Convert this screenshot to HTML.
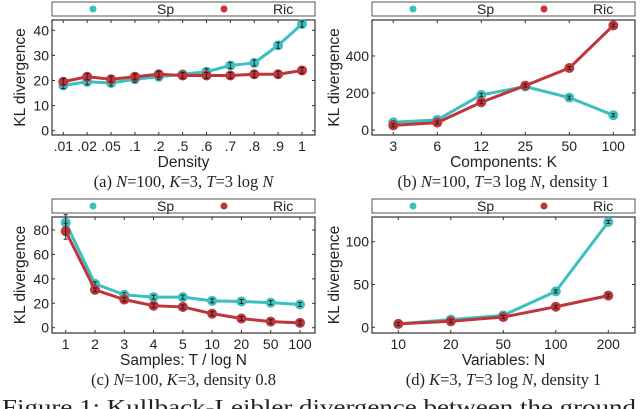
<!DOCTYPE html>
<html><head><meta charset="utf-8">
<style>
html,body{margin:0;padding:0;background:#fff;overflow:hidden}
svg{display:block}
.t{font-family:"Liberation Sans",sans-serif;fill:#222}
.s{font-family:"Liberation Serif",serif;fill:#222}
</style></head>
<body>
<svg id="fig" width="640" height="409" viewBox="0 0 640 409"></svg>
<script>
const aCats=[".01",".02",".05",".1",".2",".5",".6",".7",".8",".9","1"];
const aSp=[18,19.5,19,20.5,21.5,22.5,23.5,26,27,34,42.5];
const aRic=[19.5,21.5,20.5,21.5,22.5,22,22,22,22.5,22.5,24];
const aTicks=[0,10,20,30,40];
const bCats=["3","6","12","25","50","100"];
const bSp=[42,55,190,235,175,80];
const bRic=[25,40,150,240,335,565];
const bTicks=[0,200,400];
const cCats=["1","2","3","4","5","10","20","50","100"];
const cSp=[86,36,27,25,25,22,21.5,20.5,19];
const cRic=[79,31,23,18,17,11.5,7.5,5,4];
const cTicks=[0,20,40,60,80];
const dCats=["10","20","50","100","200"];
const dSp=[4,9,14,42,123];
const dRic=[4,7,12,24,37];
const dTicks=[0,50,100];

const NS="http://www.w3.org/2000/svg";
const svg=document.getElementById('fig');
function mk(tag,attrs,parent,text){const e=document.createElementNS(NS,tag);for(const k in attrs)e.setAttribute(k,attrs[k]);if(text!==undefined)e.textContent=text;(parent||svg).appendChild(e);return e;}
const TEAL="#3cbfbf",RED="#c0353a";

function panel(id,box,ymin,ymax,y0px,yTopPx,cats,x0,x1,ticks,sp,ric,xlabel,caption,errs,ytOff){
  const g=mk('g',{});
  
  
  const lg=mk('rect',{x:box.x,y:box.y-18,width:box.w,height:14,fill:'#fff',stroke:'#555','stroke-width':1},g);
  
  
  mk('circle',{cx:box.x+41,cy:box.y-11,r:3.5,fill:TEAL},g);
  const l1=mk('text',{x:box.x+105,y:box.y-6,'font-size':14,'class':'t'},g,'Sp');
  
  
  mk('circle',{cx:box.x+172,cy:box.y-11,r:3.5,fill:RED},g);
  const l2=mk('text',{x:box.x+221,y:box.y-6,'font-size':14,'class':'t'},g,'Ric');
  
  
  const ax=mk('rect',{x:box.x,y:box.y,width:box.w,height:box.h,fill:'#fff',stroke:'#333','stroke-width':1.2},g);
  
  
  const yS=v=>y0px-(v-ymin)/(ymax-ymin)*(y0px-yTopPx);
  const n=cats.length;
  const xS=i=>x0+i*(x1-x0)/(n-1);
  ticks.forEach(t=>{
    const y=yS(t);
    mk('line',{x1:box.x,x2:box.x+3,y1:y,y2:y,stroke:'#333'},g);
    mk('line',{x1:box.x+box.w-3,x2:box.x+box.w,y1:y,y2:y,stroke:'#333'},g);
    const tl=mk('text',{x:box.x-3,y:y+5,'font-size':14,'text-anchor':'end','class':'t'},g,String(t));
    
    
  });
  cats.forEach((c,i)=>{
    const x=xS(i);
    mk('line',{x1:x,x2:x,y1:box.y+box.h,y2:box.y+box.h-3,stroke:'#333'},g);
    mk('line',{x1:x,x2:x,y1:box.y,y2:box.y+3,stroke:'#333'},g);
    const tl=mk('text',{x:x,y:box.y+box.h+16,'font-size':14,'text-anchor':'middle','class':'t'},g,c);
    
    
  });
  const yl=mk('text',{x:0,y:0,'font-size':15.5,'text-anchor':'middle','class':'t',transform:`translate(${box.x-ytOff},${box.y+box.h/2}) rotate(-90)`},g,'KL divergence');
  
  
  const xl=mk('text',{x:box.x+box.w/2,y:box.y+box.h+32,'font-size':15.5,'text-anchor':'middle','class':'t'},g,xlabel);
  
  
  const cp=mk('text',{x:box.x+box.w/2,y:box.y+box.h+52,'font-size':16.5,'text-anchor':'middle','class':'s'},g);
  cp.innerHTML=caption;
  
  
  [[sp,TEAL,'series-sp'],[ric,RED,'series-ric']].forEach(([arr,col,nm])=>{
    const pts=arr.map((v,i)=>xS(i)+','+yS(v)).join(' ');
    const pl=mk('polyline',{points:pts,fill:'none',stroke:col,'stroke-width':3,'stroke-linejoin':'round'},g);
    
    
    arr.forEach((v,i)=>{
      const c=mk('circle',{cx:xS(i),cy:yS(v),r:5,fill:col},g);
      
      
      const e=errs*(i===0&&arr[0]>60?4:1);
      const x=xS(i),y=yS(v);
      mk('line',{x1:x,x2:x,y1:y-e,y2:y+e,stroke:'#222','stroke-width':1},g);
      mk('line',{x1:x-2,x2:x+2,y1:y-e,y2:y-e,stroke:'#222','stroke-width':1},g);
      mk('line',{x1:x-2,x2:x+2,y1:y+e,y2:y+e,stroke:'#222','stroke-width':1},g);
    });
  });
}
const M=s=>`<tspan font-style="italic">${s}</tspan>`;
panel('panel-a',{x:52,y:20,w:263,h:115},0,40,130.7,30.3,aCats,63.3,302,aTicks,aSp,aRic,'Density',
 `(a) ${M('N')}=100, ${M('K')}=3, ${M('T')}=3 log ${M('N')}`,3,27);
panel('panel-b',{x:372,y:20,w:263,h:115},0,400,130,56,bCats,393.3,613.3,bTicks,bSp,bRic,'Components: K',
 `(b) ${M('N')}=100, ${M('T')}=3 log ${M('N')}, density 1`,1.5,33);
panel('panel-c',{x:52,y:217,w:263,h:116},0,80,327.7,230,cCats,65.7,300,cTicks,cSp,cRic,'Samples: T / log N',
 `(c) ${M('N')}=100, ${M('K')}=3, density 0.8`,2,27);
panel('panel-d',{x:372,y:217,w:263,h:116},0,100,327.3,241.7,dCats,398.3,608.3,dTicks,dSp,dRic,'Variables: N',
 `(d) ${M('K')}=3, ${M('T')}=3 log ${M('N')}, density 1`,1.5,33);
const fc=mk('text',{x:2,y:414,'font-size':21,'class':'s',textLength:634,lengthAdjust:'spacingAndGlyphs'},svg,'Figure 1:   Kullback-Leibler divergence between the ground');


</script>
</body></html>
